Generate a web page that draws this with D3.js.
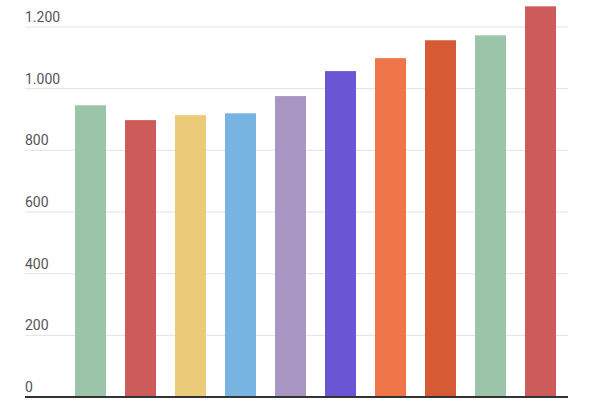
<!DOCTYPE html>
<html><head><meta charset="utf-8">
<script src="https://cdn.jsdelivr.net/npm/d3@7"></script>
<style>body{margin:0;background:#fff}</style>
</head><body><svg width="600" height="400"></svg>
<script>
const categories = ["A","B","C","D","E","F","G","H","I","J"];
const values = [946, 898, 914, 920, 976, 1057, 1099, 1157, 1173, 1267];
const colors = ["#9cc4a9","#cd5b5a","#ebcb79","#77b4e1","#a996c5","#6a56d4","#ee7649","#d65a33","#9cc4a9","#cd5b5a"];
const yTicks = [0,200,400,600,800,1000,1200];

const svg = d3.select("svg");
const y = d3.scaleLinear().domain([0,1200]).range([397,27]);
const x = d3.scaleBand().domain(categories).range([65.5,565.5]).paddingInner(0.38).paddingOuter(0.19);
const fmt = d3.formatLocale({decimal:",",thousands:".",grouping:[3],currency:["",""]}).format(",d");

svg.append("g").selectAll("line").data(yTicks.slice(1)).join("line")
  .attr("x1",25).attr("x2",568).attr("y1",d=>y(d)).attr("y2",d=>y(d))
  .attr("stroke","#e3e3e3").attr("stroke-width",1);
svg.append("g").selectAll("text").data(yTicks).join("text")
  .attr("x",25).attr("y",d=>y(d)-5).text(d=>fmt(d))
  .attr("font-family","Roboto, sans-serif").attr("font-size",14).attr("fill","#555");
svg.append("g").selectAll("rect").data(values).join("rect")
  .attr("x",(d,i)=>x(categories[i])).attr("width",x.bandwidth())
  .attr("y",d=>y(d)).attr("height",d=>y(0)-y(d))
  .attr("fill",(d,i)=>colors[i]);
svg.append("line").attr("x1",25).attr("x2",568).attr("y1",y(0)).attr("y2",y(0))
  .attr("stroke","#333").attr("stroke-width",2);
</script></body></html>
